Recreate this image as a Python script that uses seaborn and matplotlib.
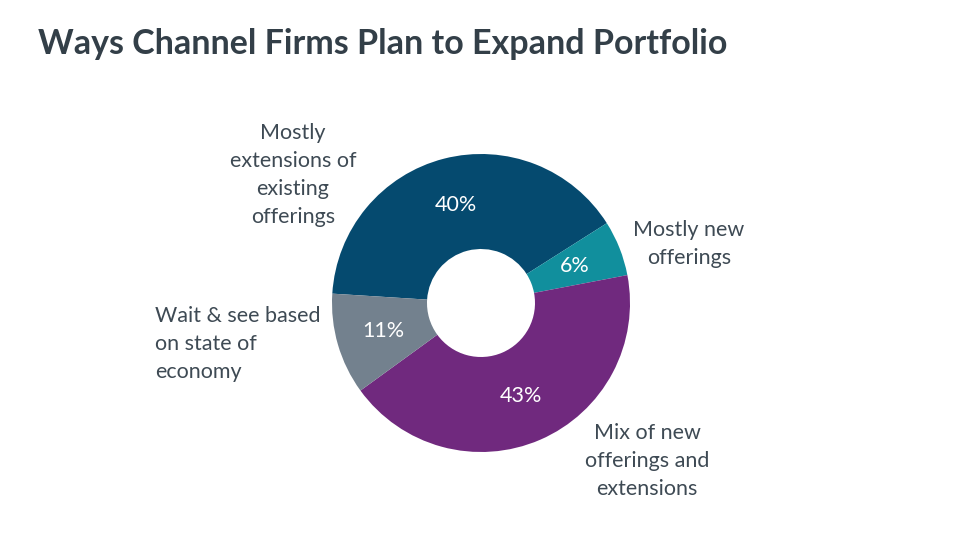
import matplotlib.pyplot as plt
import seaborn as sns

# data
categories = ["Mostly\nextensions of\nexisting\nofferings", "Mostly new\nofferings",
              "Mix of new\nofferings and\nextensions", "Wait & see based\non state of\neconomy"]
shares = [40, 6, 43, 11]
colors = ["#054A6F", "#118F9D", "#70297E", "#73818E"]

sns.set_theme(style="white")
plt.rcParams['font.family'] = ['Lato', 'DejaVu Sans']

fig = plt.figure(figsize=(9.6, 5.4), dpi=100)
fig.patch.set_facecolor("white")

# donut centred at (481, 303) px, outer radius 149 px
ax = fig.add_axes([332 / 960, (540 - 452) / 540, 298 / 960, 298 / 540])
wedges, texts, autotexts = ax.pie(
    shares, colors=colors, startangle=176.4, counterclock=False,
    radius=1, wedgeprops=dict(width=1 - 54 / 149, linewidth=0),
    autopct="%d%%", pctdistance=0.68,
    textprops=dict(color="white", fontsize=15.5))
ax.set_xlim(-1, 1)
ax.set_ylim(-1, 1)
ax.set_aspect("equal")
ax.axis("off")

txt_color = "#3E4A54"
label_pos = [(-1.262, 0.856, "center"), (1.396, 0.399, "center"),
             (1.114, -1.060, "center"), (-2.188, -0.275, "left")]
for lab, (x, y, ha) in zip(categories, label_pos):
    ax.text(x, y, lab, ha=ha, va="center", multialignment=ha, fontsize=15.5,
            color=txt_color, linespacing=1.5, clip_on=False)

fig.text(38 / 960, 1 - 54 / 540, "Ways Channel Firms Plan to Expand Portfolio",
         fontsize=24.5, fontweight="bold", color="#333F48", ha="left", va="baseline")

fig.savefig("out.png", dpi=100, facecolor="white")
